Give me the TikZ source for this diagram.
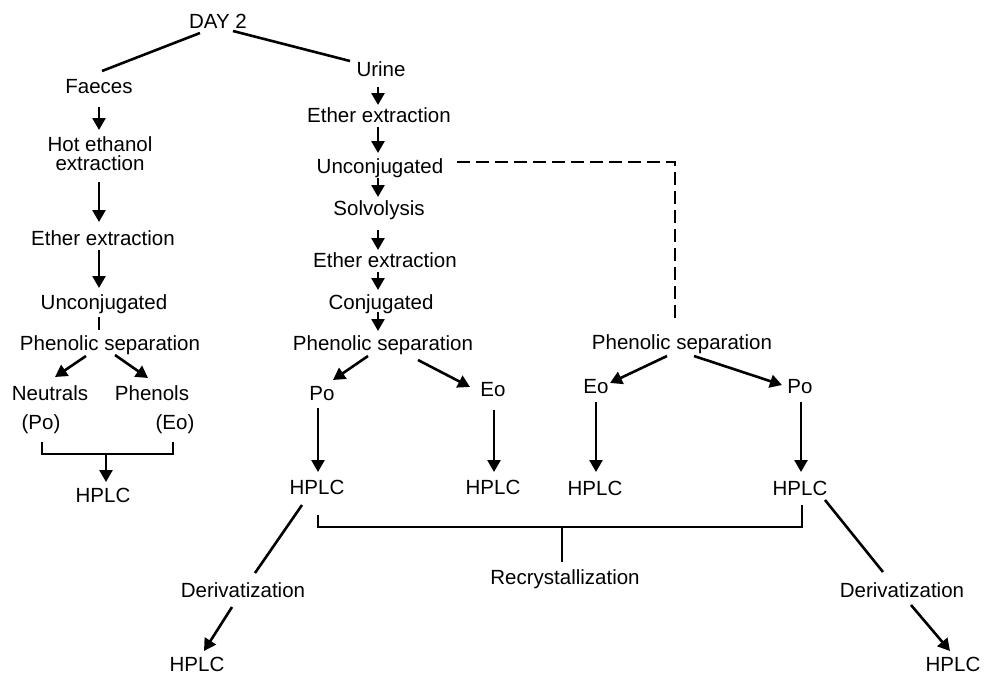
\documentclass[tikz,border=0pt]{standalone}
\usepackage{fontspec}
\setmainfont{Liberation Sans}
\usetikzlibrary{arrows.meta,calc}
\begin{document}
\begin{tikzpicture}[x=1pt,y=-1pt,
  lbl/.style={inner sep=0pt,outer sep=0pt,text height=14pt,text depth=0pt,font=\fontsize{20.5}{18}\selectfont},
  lbltwo/.style={inner sep=0pt,outer sep=0pt,align=center,font=\fontsize{20.5}{19}\selectfont},
  ln/.style={line width=2.6pt},
  arr/.style={line width=2.6pt,-{Triangle[length=12pt,width=13pt]}},
  dashln/.style={line width=2.6pt,dash pattern=on 13pt off 6pt}]
\useasboundingbox (0,0) rectangle (988,675);
% left column
\node[lbl] (day) at (218,21) {DAY 2};
\node[lbl] (fae) at (99,86) {Faeces};
\node[lbltwo] (hot) at (100,154) {Hot ethanol\\extraction};
\node[lbl] (eth1) at (103,238) {Ether extraction};
\node[lbl] (unc1) at (104,302) {Unconjugated};
\node[lbl] (phe1) at (110,343) {Phenolic separation};
\node[lbl] (neu) at (50,393) {Neutrals};
\node[lbl] (pho) at (152,393) {Phenols};
\node[lbl] (po1) at (41,422) {(Po)};
\node[lbl] (eo1) at (175,422) {(Eo)};
\node[lbl] (hplc1) at (103,495) {HPLC};
% middle column
\node[lbl] (uri) at (381,69) {Urine};
\node[lbl] (eth2) at (379,115) {Ether extraction};
\node[lbl] (unc2) at (380,166) {Unconjugated};
\node[lbl] (sol) at (379,208) {Solvolysis};
\node[lbl] (eth3) at (385,260) {Ether extraction};
\node[lbl] (con) at (381,302) {Conjugated};
\node[lbl] (phe2) at (383,343) {Phenolic separation};
\node[lbl] (po2) at (322,393) {Po};
\node[lbl] (eo2) at (493,389) {Eo};
\node[lbl] (hplc2) at (317,487) {HPLC};
\node[lbl] (hplc3) at (493,487) {HPLC};
% right column
\node[lbl] (phe3) at (682,342) {Phenolic separation};
\node[lbl] (eo3) at (596,386) {Eo};
\node[lbl] (po3) at (800,386) {Po};
\node[lbl] (hplc4) at (595,488) {HPLC};
\node[lbl] (hplc5) at (800,488) {HPLC};
% bottom
\node[lbl] (rec) at (565,577) {Recrystallization};
\node[lbl] (der1) at (243,590) {Derivatization};
\node[lbl] (der2) at (902,590) {Derivatization};
\node[lbl] (hplc6) at (197,664) {HPLC};
\node[lbl] (hplc7) at (953,664) {HPLC};

% connectors
\draw[ln] ($(day)+(-18,12)$) -- ($(fae)+(3,-15)$);
\draw[ln] ($(day)+(15,10)$) -- ($(uri)+(-31,-8)$);
\draw[arr] ($(fae)+(0,21)$) -- ($(hot)+(-1,-24)$);
\draw[arr] ($(hot)+(-1,28)$) -- ($(eth1)+(-4,-16)$);
\draw[arr] ($(eth1)+(-4,12)$) -- ($(unc1)+(-5,-14)$);
\draw[ln] ($(unc1)+(-5,15)$) -- ($(phe1)+(-11,-13)$);
\draw[arr] ($(phe1)+(-24,13)$) -- ($(neu)+(5,-16)$);
\draw[arr] ($(phe1)+(5,12)$) -- ($(pho)+(-4,-15)$);
\draw[ln] ($(po1)+(1,20)$) -- ++(0,12) -| ($(eo1)+(-2,20)$);
\draw[arr] ($(hplc1)+(3,-41)$) -- ($(hplc1)+(3,-13)$);

\draw[arr] ($(uri)+(-3,18)$) -- ($(eth2)+(-1,-10)$);
\draw[arr] ($(eth2)+(-1,12)$) -- ($(unc2)+(-2,-13)$);
\draw[arr] ($(unc2)+(-2,12)$) -- ($(sol)+(-1,-11)$);
\draw[arr] ($(sol)+(-1,22)$) -- ($(eth3)+(-7,-10)$);
\draw[arr] ($(eth3)+(-7,12)$) -- ($(con)+(-3,-12)$);
\draw[arr] ($(con)+(-3,10)$) -- ($(phe2)+(-5,-12)$);
\draw[arr] ($(phe2)+(-15,13)$) -- ($(po2)+(11,-13)$);
\draw[arr] ($(phe2)+(35,17)$) -- ($(eo2)+(-23,-2)$);
\draw[arr] ($(po2)+(-4,15)$) -- ($(hplc2)+(1,-15)$);
\draw[arr] ($(eo2)+(1,21)$) -- ($(hplc3)+(1,-15)$);

\draw[dashln] ($(unc2)+(77,-4)$) -| ($(phe3)+(-7,-19)$);
\draw[arr] ($(phe3)+(-15,14)$) -- ($(eo3)+(14,-3)$);
\draw[arr] ($(phe3)+(12,14)$) -- ($(po3)+(-18,-1)$);
\draw[arr] ($(eo3)+(0,16)$) -- ($(hplc4)+(1,-16)$);
\draw[arr] ($(po3)+(1,16)$) -- ($(hplc5)+(1,-16)$);

\draw[ln] ($(hplc2)+(-15,18)$) -- ($(der1)+(12,-17)$);
\draw[arr] ($(der1)+(-11,17)$) -- ($(hplc6)+(7,-13)$);
\draw[ln] ($(hplc2)+(1,28)$) -- ++(0,12) -| ($(hplc5)+(2,17)$);
\draw[ln] ($(rec)+(-3,-50)$) -- ($(rec)+(-3,-15)$);
\draw[ln] ($(hplc5)+(25,12)$) -- ($(der2)+(-19,-18)$);
\draw[arr] ($(der2)+(9,15)$) -- ($(hplc7)+(-3,-13)$);
\end{tikzpicture}
\end{document}
